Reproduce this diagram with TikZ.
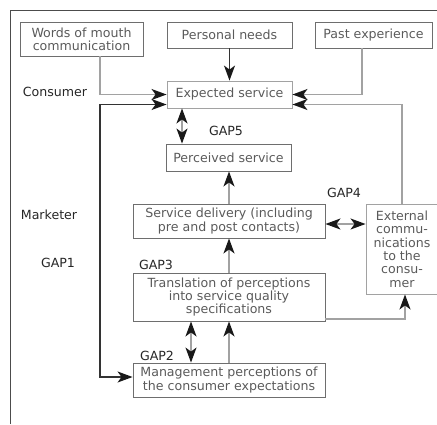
\documentclass[tikz,border=0pt]{standalone}
\usepackage{fontspec}
\setmainfont{DejaVu Sans}
\usetikzlibrary{arrows.meta}
\definecolor{boxline}{HTML}{6E6E6E}
\definecolor{conline}{HTML}{A2A2A2}
\definecolor{boxtext}{HTML}{5A5A5A}
\begin{document}
\begin{tikzpicture}[x=1pt,y=-1pt,
    box/.style={draw=boxline,line width=0.9pt,text=boxtext,align=center,inner sep=0pt,
      font=\fontsize{12.6}{13.4}\selectfont},
    lbl/.style={text=black!85,font=\fontsize{12.6}{13.4}\selectfont},
    tip/.tip={Stealth[length=15pt,width=11pt,inset=4pt,color=black!90]},
    conn/.style={draw=conline,line width=1.3pt,-tip},
    dbl/.style={draw=conline,line width=1.3pt,tip-tip}]
        \useasboundingbox (0,0) rectangle (437,424);
        \draw[black!70,line width=1pt] (10,424) -- (10,10) -- (437,10);
        % boxes
        \node[box,minimum width=123pt,minimum height=34pt] (words) at (81.5,39) {Words of mouth\\communication};
        \node[box,minimum width=125pt,minimum height=26pt] (needs) at (229.5,35) {Personal needs};
        \node[box,minimum width=117pt,minimum height=26pt] (past) at (373.5,35) {Past experience};
        \node[box,minimum width=125pt,minimum height=27pt,draw=conline] (expected) at (229.5,94.5) {Expected service};
        \node[box,minimum width=125pt,minimum height=27pt] (perceived) at (228.5,157.5) {Perceived service};
        \node[box,minimum width=192pt,minimum height=34pt] (delivery) at (229,221) {Service delivery (including\\pre and post contacts)};
        \node[box,minimum width=72pt,minimum height=90pt,draw=conline] (external) at (402,249) {External\\commu-\\nications\\to the\\consu-\\mer};
        \node[box,minimum width=192pt,minimum height=48pt] (translation) at (229,297) {Translation of perceptions\\into service quality\\specifications};
        \node[box,minimum width=192pt,minimum height=34pt] (management) at (229,380) {Management perceptions of\\the consumer expectations};
        % side labels
        \node[lbl] (consumer) at (55,92) {Consumer};
        \node[lbl] (marketer) at (49,215) {Marketer};
        \node[lbl] (gapone) at (58,263) {GAP1};
        \node[lbl] (gaptwo) at (157,356) {GAP2};
        \node[lbl] (gapthree) at (156,265) {GAP3};
        \node[lbl] (gapfour) at (344,193) {GAP4};
        \node[lbl] (gapfive) at (226,131) {GAP5};
        % connectors
        \coordinate (leftbus) at (100,240);
        \draw[conn] ([xshift=18.5pt]words.south) |- (expected.west);
        \draw[conn,draw=black!80] (needs) -- (expected);
        \draw[conn] ([xshift=-11.5pt]past.south) |- (expected.east);
        \draw[dbl,draw=black!80,line width=1.1pt] ([yshift=-10pt]expected.west) -| (leftbus) |- ([yshift=3pt]management.west);
        \draw[conn] (external.north) |- ([yshift=-10pt]expected.east);
        \draw[dbl] ([xshift=-47.5pt]expected.south) -- ([xshift=-47.5pt]expected.south |- perceived.north);
        \draw[conn] (delivery.north) -- (delivery.north |- perceived.south);
        \draw[dbl] ([yshift=-3pt]delivery.east) -- ([yshift=-3pt]delivery.east -| external.west);
        \draw[conn] (translation.north) -- (delivery.south);
        \draw[conn] ([yshift=-22pt]translation.east) -| ([xshift=3pt]external.south);
        \draw[dbl] ([xshift=-38pt]translation.south) -- ([xshift=-38pt]management.north);
        \draw[conn] (management.north) -- (translation.south);
\end{tikzpicture}
\end{document}
